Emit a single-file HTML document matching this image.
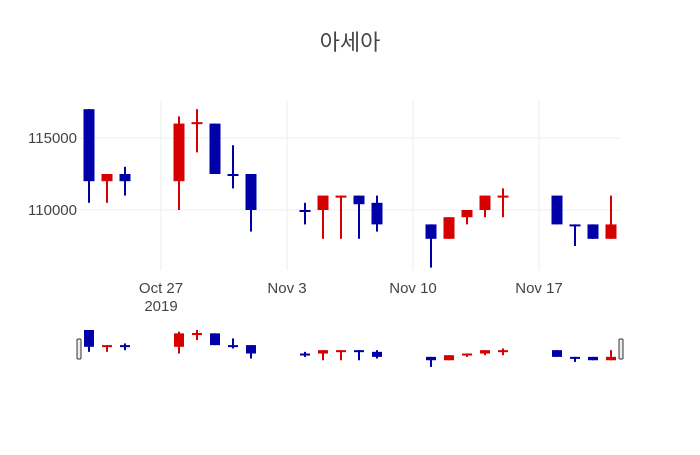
<!DOCTYPE html>
<html><head><meta charset="utf-8"><style>
body{margin:0;background:#fff;font-family:"Liberation Sans","Noto Sans CJK KR",sans-serif}
svg text{font-family:"Liberation Sans","Noto Sans CJK KR",sans-serif;fill:#444}
</style></head><body>
<svg id="c" width="700" height="450">
<text x="350" y="50" text-anchor="middle" font-size="22">아세아</text>
<g id="grid"></g><g id="marks"></g><g id="slider"></g><g id="axes"></g>
</svg>
<script>
const dates=["2019-10-23","2019-10-24","2019-10-25","2019-10-28","2019-10-29","2019-10-30","2019-10-31","2019-11-01","2019-11-04","2019-11-05","2019-11-06","2019-11-07","2019-11-08","2019-11-11","2019-11-12","2019-11-13","2019-11-14","2019-11-15","2019-11-18","2019-11-19","2019-11-20","2019-11-21"];
const opens=[117000,112000,112500,112000,116000,116000,112500,112500,110000,110000,110900,111000,110500,109000,108000,109500,110000,110900,111000,109000,109000,108000];
const highs=[117000,112500,113000,116500,117000,116000,114500,112500,110500,111000,111000,111000,111000,109000,109500,110000,111000,111500,111000,109000,109000,111000];
const lows=[110500,110500,111000,110000,114000,112500,111500,108500,109000,108000,108000,108000,108500,106000,108000,109000,109500,109500,109000,107500,108000,108000];
const closes=[112000,112500,112000,116000,116100,112500,112400,110000,109900,111000,111000,110400,109000,108000,109500,110000,111000,111000,109000,108900,108000,109000];
const yTicks=[110000,115000];
const xTicks=[["2019-10-27","Oct 27","2019"],["2019-11-03","Nov 3",""],["2019-11-10","Nov 10",""],["2019-11-17","Nov 17",""]];
const NS="http://www.w3.org/2000/svg";
const day=86400000, t0=Date.parse("2019-10-22T12:00:00Z");
const X=d=>80+(Date.parse(d+"T00:00:00Z")-t0)/day*18;
const Y=v=>138-(v-115000)*0.0144;
const SY=v=>330+(117000-v)*0.00336;
function mk(tag,attrs,parent){const e=document.createElementNS(NS,tag);for(const k in attrs)e.setAttribute(k,attrs[k]);document.getElementById(parent).appendChild(e);return e;}
yTicks.forEach(v=>{
 const l=mk('line',{x1:80,x2:620,y1:Y(v),y2:Y(v),stroke:'#eee'},'grid');
 
 
 const t=mk('text',{x:77,y:Y(v)+5,'text-anchor':'end','font-size':15},'axes');t.textContent=v;
 
 
});
xTicks.forEach(([d,a,b])=>{
 const x=X(d);
 const l=mk('line',{x1:x,x2:x,y1:100,y2:270,stroke:'#eee'},'grid');
 
 
 const t=mk('text',{x:x,y:293,'text-anchor':'middle','font-size':15},'axes');t.textContent=a;
 
 
 if(b){const t2=mk('text',{x:x,y:311,'text-anchor':'middle','font-size':15},'axes');t2.textContent=b;
 
 }
});
function candle(i,yf,g,w,name){
 const x=X(dates[i]),up=closes[i]>=opens[i],col=up?'#d60000':'#0000a8';
 const top=yf(Math.max(opens[i],closes[i])),bot=yf(Math.min(opens[i],closes[i]));
 const wk=mk('line',{x1:x,x2:x,y1:yf(highs[i]),y2:yf(lows[i]),stroke:col,'stroke-width':2},g);
 
 
 const r=mk('rect',{x:x-w/2,y:top,width:w,height:Math.max(bot-top,2),fill:col},g);
 
 
}
dates.forEach((d,i)=>{candle(i,Y,'marks',11,'candle');candle(i,SY,'slider',10,'slider-candle');});
[[79,'rangeslider-handle-left'],[621,'rangeslider-handle-right']].forEach(([x,n])=>{
 const h=mk('rect',{x:x-2,y:339,width:4,height:20,fill:'#eee',stroke:'#333','stroke-width':1,rx:1},'slider');
 
 
});
</script>
</body></html>
